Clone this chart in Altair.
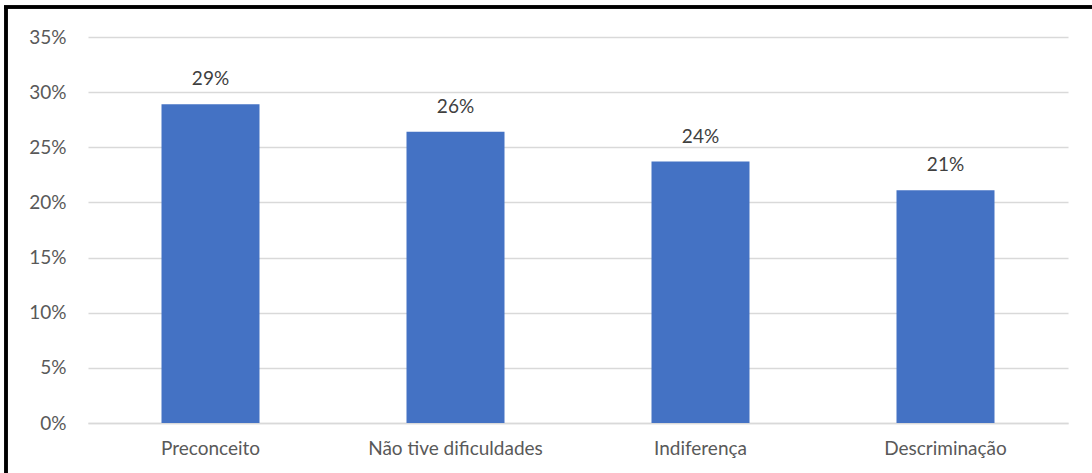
import altair as alt
import pandas as pd

categories = ["Preconceito", "Não tive dificuldades", "Indiferença", "Descriminação"]
values = [0.289, 0.264, 0.237, 0.211]

df = pd.DataFrame({"cat": categories, "val": values})

FONT = "Lato"

base = alt.Chart(df)

bars = base.mark_bar(color="#4472C4").encode(
    x=alt.X("cat:N", sort=categories, title=None,
            scale=alt.Scale(paddingInner=0.6, paddingOuter=0.3),
            axis=alt.Axis(labelAngle=0, labelFontSize=19, labelColor="#595959",
                          labelFont=FONT, labelPadding=16, ticks=False, grid=False,
                          domainColor="#d9d9d9", domainWidth=1.5)),
    y=alt.Y("val:Q", title=None,
            scale=alt.Scale(domain=[0, 0.35], nice=False),
            axis=alt.Axis(values=[0, 0.05, 0.1, 0.15, 0.2, 0.25, 0.3, 0.35],
                          format=".0%", labelFontSize=19, labelColor="#595959",
                          labelFont=FONT, labelPadding=22, ticks=False,
                          domain=False, gridColor="#d9d9d9", gridWidth=1.5)),
)

labels = base.mark_text(fontSize=19, font=FONT, color="#404040", dy=-19,
                        baseline="alphabetic").encode(
    x=alt.X("cat:N", sort=categories),
    y="val:Q",
    text=alt.Text("val:Q", format=".0%"),
)

frame_top = alt.Chart(df).mark_rule(color="black", strokeWidth=3).encode(
    x=alt.value(-84), x2=alt.value(1010), y=alt.value(-30)
)
frame_left = alt.Chart(df).mark_rule(color="black", strokeWidth=3).encode(
    x=alt.value(-82), y=alt.value(-31), y2=alt.value(440)
)

chart = alt.layer(bars, labels, frame_top, frame_left).properties(
    width=980, height=386,
    autosize=alt.AutoSizeParams(type="none"),
    padding={"left": 88, "top": 37, "right": 24, "bottom": 50},
    background="white",
).configure_view(strokeWidth=0)

chart.save("out.html", embed_options={"renderer": "svg", "actions": False})
